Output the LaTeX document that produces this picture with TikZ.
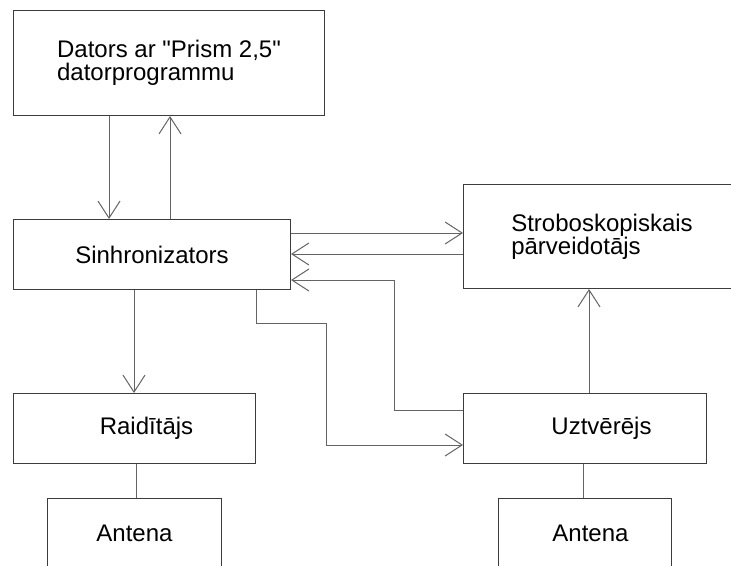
\documentclass[tikz,border=0pt]{standalone}
\usepackage{fontspec}
\setmainfont{Liberation Sans}
\usetikzlibrary{arrows.meta}

\definecolor{boxgray}{RGB}{60,60,60}
\definecolor{linegray}{RGB}{100,100,100}

\begin{document}
\begin{tikzpicture}[x=1pt, y=-1pt,
  block/.style={draw=boxgray, line width=1pt, rectangle, anchor=north west, inner sep=0pt,
    font=\fontsize{24}{23}\selectfont},
  link/.style={draw=linegray, line width=1pt},
  arrow/.style={link, -{Straight Barb[length=17pt, width=22pt]}}]

\useasboundingbox (0,0) rectangle (731,565);

\pgfmathsetmacro{\rowH}{70}
\pgfmathsetmacro{\antH}{70}

% blocks
\node[block, minimum width=311, minimum height=105, align=left] (dators) at (13,10) {Dators ar \textquotedbl Prism 2,5\textquotedbl\\datorprogrammu};
\node[block, minimum width=277, minimum height=\rowH] (sinhr) at (13,219) {Sinhronizators};
\node[block, minimum width=277, minimum height=104, align=left] (strobo) at (463,184) {Stroboskopiskais\\pārveidotājs};
\node[block, minimum width=242, minimum height=\rowH] (raid) at (13,393) {\hspace*{24pt}Raidītājs};
\node[block, minimum width=243, minimum height=\rowH] (uztv) at (463,393) {\hspace*{33pt}Uztvērējs};
\node[block, minimum width=174, minimum height=\antH] (ant1) at (47,498) {Antena};
\node[block, minimum width=173, minimum height=\antH] (ant2) at (498,498) {\hspace*{11pt}Antena};

% connectors
\draw[arrow] ([xshift=96pt]dators.south west) -- ([xshift=96pt]sinhr.north west);
\draw[arrow] ([xshift=157pt]sinhr.north west) -- ([xshift=157pt]dators.south west);
\draw[arrow] ([yshift=-14pt]sinhr.north east) -- ([yshift=-14pt]sinhr.north east -| strobo.west);
\draw[arrow] ([yshift=-70pt]strobo.north west) -- ([yshift=-70pt]strobo.north west -| sinhr.east);
\draw[arrow] ([yshift=-17pt]uztv.north west) -| ([xshift=103pt,yshift=10pt]sinhr.south east) -- ([yshift=10pt]sinhr.south east);
\draw[arrow] ([xshift=243pt]sinhr.south west) -- ++(0,33) -| ([xshift=-137pt,yshift=19pt]uztv.south west) -- ([yshift=19pt]uztv.south west);
\draw[arrow] ([xshift=121pt]sinhr.south west) -- ([xshift=121pt]raid.north west);
\draw[arrow] ([xshift=126pt]uztv.north west) -- ([xshift=126pt]strobo.south west);
\draw[link] ([xshift=123pt]raid.south west) -- ([xshift=123pt]raid.south west |- ant1.north);
\draw[link] ([xshift=120pt]uztv.south west) -- ([xshift=120pt]uztv.south west |- ant2.north);
\end{tikzpicture}
\end{document}
